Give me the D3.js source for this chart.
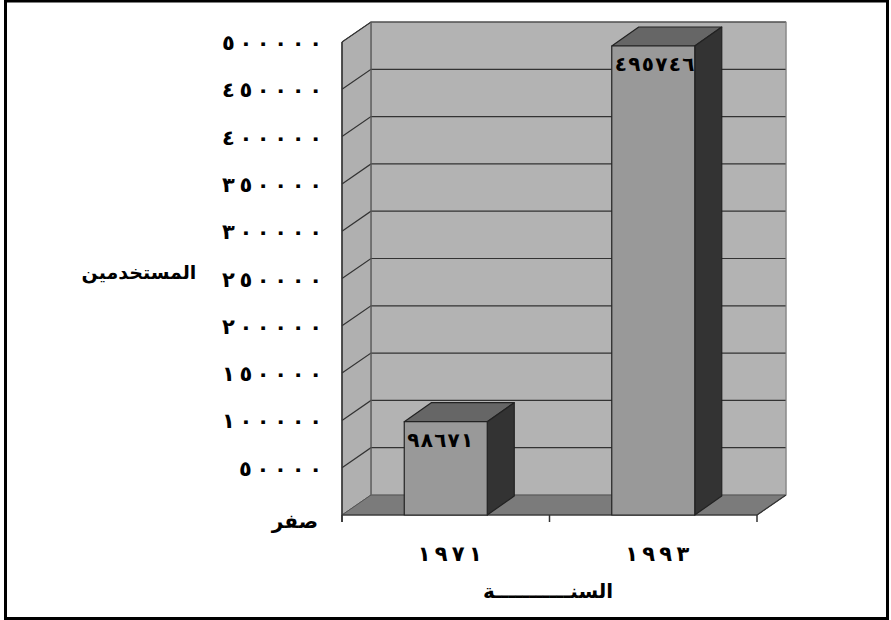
<!DOCTYPE html>
<html>
<head>
<meta charset="utf-8">
<script src="https://cdn.jsdelivr.net/npm/d3@7"></script>
<style>
  html, body { margin: 0; padding: 0; background: #fff; }
  svg { display: block; }
  text { font-family: "DejaVu Sans", sans-serif; fill: #000; }
</style>
</head>
<body>
<svg id="chart" width="891" height="620"></svg>
<script>
// Users per year
const years = ["١٩٧١", "١٩٩٣"];
const users = [98671, 495746];
const valueLabels = ["٩٨٦٧١", "٤٩٥٧٤٦"];
const tickValues = [0, 50000, 100000, 150000, 200000, 250000, 300000, 350000, 400000, 450000, 500000];
const tickLabels = ["صفر", "٥٠٠٠٠", "١٠٠٠٠٠", "١٥٠٠٠٠", "٢٠٠٠٠٠", "٢٥٠٠٠٠", "٣٠٠٠٠٠", "٣٥٠٠٠٠", "٤٠٠٠٠٠", "٤٥٠٠٠٠", "٥٠٠٠٠٠"];
const yTitle = "المستخدمين";
const xTitle = "السنـــــــــــة";

const svg = d3.select("#chart");

// front plane scales
const x = d3.scaleBand().domain(years).range([342, 757]).padding(0);
const y = d3.scaleLinear().domain([0, 500000]).range([515, 42]);

// depth offset of the back wall
const DX = 29, DY = -20;
// bar depth offset
const BDX = 27, BDY = -19;
const barW = x.bandwidth() * 0.4;

const x0 = x.range()[0], x1 = x.range()[1];
const yBase = y(0), yTop = y(500000);

// frame
svg.append("rect").attr("x", 5.5).attr("y", 1).attr("width", 882).attr("height", 617.5)
  .attr("fill", "none").attr("stroke", "#000").attr("stroke-width", 3);

const walls = svg.append("g");
// back wall
walls.append("rect")
  .attr("x", x0 + DX).attr("y", yTop + DY)
  .attr("width", x1 - x0).attr("height", yBase - yTop)
  .attr("fill", "#b3b3b3").attr("stroke", "#8a8a8a").attr("stroke-width", 1);
// side wall
walls.append("path")
  .attr("d", `M${x0},${yBase} L${x0},${yTop} L${x0 + DX},${yTop + DY} L${x0 + DX},${yBase + DY} Z`)
  .attr("fill", "#b0b0b0").attr("stroke", "#555").attr("stroke-width", 1);
// floor
walls.append("path")
  .attr("d", `M${x0},${yBase} L${x1},${yBase} L${x1 + DX},${yBase + DY} L${x0 + DX},${yBase + DY} Z`)
  .attr("fill", "#7b7b7b").attr("stroke", "#555").attr("stroke-width", 1);

// gridlines on side and back walls
const grid = walls.append("g").attr("stroke", "#333").attr("stroke-width", 1.2).attr("fill", "none");
tickValues.filter(v => v > 0).forEach(v => {
  const yf = y(v), yb = y(v) + DY;
  grid.append("path").attr("d", `M${x0},${yf} L${x0 + DX},${yb} L${x1 + DX},${yb}`);
});
// edges of the walls
walls.append("line").attr("x1", x0).attr("y1", yTop).attr("x2", x0).attr("y2", yBase + 7)
  .attr("stroke", "#333").attr("stroke-width", 1.5);
walls.append("line").attr("x1", x0 + DX).attr("y1", yTop + DY).attr("x2", x0 + DX).attr("y2", yBase + DY)
  .attr("stroke", "#666").attr("stroke-width", 1);
walls.append("line").attr("x1", x0).attr("y1", yBase).attr("x2", x1).attr("y2", yBase)
  .attr("stroke", "#333").attr("stroke-width", 1.2);
walls.append("line").attr("x1", x1).attr("y1", yBase).attr("x2", x1 + DX).attr("y2", yBase + DY)
  .attr("stroke", "#333").attr("stroke-width", 1.2);
walls.append("line").attr("x1", x1 + DX).attr("y1", yBase + DY).attr("x2", x1 + DX).attr("y2", yTop + DY)
  .attr("stroke", "#888").attr("stroke-width", 1);

// category ticks
[x0, x0 + x.bandwidth(), x1].forEach(tx => {
  walls.append("line").attr("x1", tx).attr("y1", yBase).attr("x2", tx).attr("y2", yBase + 7)
    .attr("stroke", "#333").attr("stroke-width", 1.5);
});

// bars
const bars = svg.append("g").attr("stroke", "#222").attr("stroke-width", 1.2).attr("stroke-linejoin", "round");
years.forEach((yr, i) => {
  const cx = x(yr) + x.bandwidth() / 2;
  const l = cx - barW / 2, r = cx + barW / 2;
  const t = y(users[i]), b = y(0);
  // top face
  bars.append("path")
    .attr("d", `M${l},${t} L${l + BDX},${t + BDY} L${r + BDX},${t + BDY} L${r},${t} Z`)
    .attr("fill", "#666");
  // side face
  bars.append("path")
    .attr("d", `M${r},${t} L${r + BDX},${t + BDY} L${r + BDX},${b + BDY} L${r},${b} Z`)
    .attr("fill", "#333");
  // front face
  bars.append("rect")
    .attr("x", l).attr("y", t).attr("width", barW).attr("height", b - t)
    .attr("fill", "#999");
  // value label
  svg.append("text")
    .attr("x", l + 3).attr("y", t + 25)
    .attr("font-size", 20).attr("font-weight", "bold")
    .attr("textLength", valueLabels[i].length * 13.6 - 2)
    .attr("lengthAdjust", "spacing")
    .text(valueLabels[i]);
});

// value axis labels
const yAxis = svg.append("g");
tickValues.forEach((v, i) => {
  const lab = tickLabels[i];
  const t = yAxis.append("text")
    .attr("x", 322).attr("y", y(v) + 8)
    .attr("text-anchor", "end")
    .attr("font-size", 21).attr("font-weight", "bold")
    .text(lab);
  if (v === 0) {
    t.attr("x", 318).attr("y", y(v) + 13).attr("font-size", 20);
  } else {
    t.attr("textLength", lab.length * 17 - 2).attr("lengthAdjust", "spacing");
  }
});

// category labels
years.forEach(yr => {
  svg.append("text")
    .attr("x", x(yr) + x.bandwidth() / 2 + 4).attr("y", yBase + 46)
    .attr("text-anchor", "middle")
    .attr("font-size", 21).attr("font-weight", "bold")
    .attr("textLength", yr.length * 16.5 - 2)
    .attr("lengthAdjust", "spacing")
    .text(yr);
});

// axis titles
svg.append("text").attr("x", 139).attr("y", 279)
  .attr("text-anchor", "middle").attr("font-size", 19).attr("font-weight", "bold")
  .text(yTitle);
svg.append("text").attr("x", 548).attr("y", 598)
  .attr("text-anchor", "middle").attr("font-size", 20).attr("font-weight", "bold")
  .text(xTitle);
</script>
</body>
</html>
